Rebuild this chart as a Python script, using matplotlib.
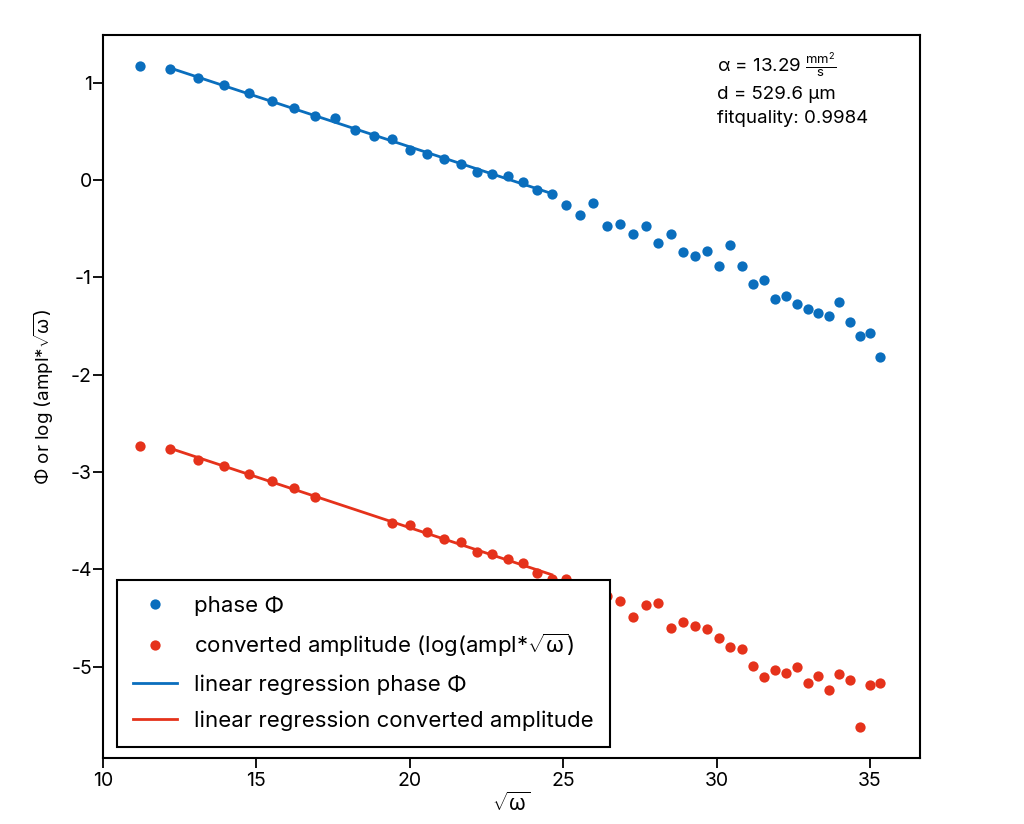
import numpy as np
import matplotlib
matplotlib.use("Agg")
import matplotlib.pyplot as plt
from matplotlib.lines import Line2D

plt.rcParams['font.family'] = ['Inter', 'DejaVu Sans']
plt.rcParams['mathtext.fontset'] = 'custom'
plt.rcParams['mathtext.rm'] = 'Inter'
plt.rcParams['mathtext.it'] = 'Inter'
plt.rcParams['mathtext.bf'] = 'Inter'

# ---------------- data ----------------
sqrt_omega = [11.216, 12.194, 13.099, 13.945, 14.743, 15.500, 16.222, 16.913, 17.576, 18.216,
              18.834, 19.432, 20.012, 20.576, 21.125, 21.660, 22.182, 22.692, 23.191, 23.679,
              24.158, 24.627, 25.087, 25.540, 25.984, 26.421, 26.850, 27.273, 27.690, 28.100,
              28.504, 28.903, 29.296, 29.684, 30.068, 30.446, 30.820, 31.189, 31.553, 31.914,
              32.271, 32.623, 32.972, 33.318, 33.659, 33.998, 34.333, 34.665, 34.993, 35.319]

phase = [1.172, 1.138, 1.051, 0.979, 0.891, 0.809, 0.737, 0.655, 0.640, 0.511,
         0.449, 0.418, 0.308, 0.270, 0.216, 0.168, 0.079, 0.065, 0.041, -0.017,
         -0.099, -0.144, -0.254, -0.356, -0.233, -0.473, -0.456, -0.555, -0.473, -0.647,
         -0.555, -0.737, -0.785, -0.726, -0.884, -0.668, -0.884, -1.066, -1.028, -1.226,
         -1.192, -1.274, -1.329, -1.364, -1.398, -1.250, -1.463, -1.603, -1.576, -1.822]

nan = float('nan')
amplitude = [-2.734, -2.768, -2.878, -2.936, -3.022, -3.097, -3.169, -3.255, nan, nan,
             nan, -3.522, -3.543, -3.618, -3.693, -3.720, -3.823, -3.844, -3.898, -3.933,
             -4.036, -4.098, -4.098, -4.214, -4.207, -4.275, -4.330, -4.491, -4.368, -4.344,
             -4.604, -4.543, -4.581, -4.612, -4.707, -4.803, -4.820, -4.995, -5.105, -5.036,
             -5.070, -5.005, -5.167, -5.095, -5.242, -5.080, -5.136, -5.619, -5.193, -5.167]

# indices of the points used for the linear regressions
fit_first, fit_last = 1, 21

alpha_txt = "13.29"
d_txt = "529.6"
fitq_txt = "0.9984"

x_ticks = [10, 15, 20, 25, 30, 35]
y_ticks = [1, 0, -1, -2, -3, -4, -5]

labels = ["phase \u03a6",
          r"converted amplitude (log(ampl*$\sqrt{\omega}$)",
          "linear regression phase \u03a6",
          "linear regression converted amplitude"]

BLUE = '#0a6ebd'
RED = '#e5321b'

# ---------------- plot ----------------
fig = plt.figure(figsize=(10.24, 8.24), dpi=100)
ax = fig.add_axes([103/1024, 1 - 758/824, (920 - 103)/1024, (758 - 35)/824])

x = np.array(sqrt_omega)
yp = np.array(phase)
ya = np.array(amplitude)

ax.plot(x, yp, 'o', color=BLUE, markersize=7.4, markeredgewidth=0, zorder=3)
ax.plot(x, ya, 'o', color=RED, markersize=7.4, markeredgewidth=0, zorder=3)

sl = slice(fit_first, fit_last + 1)
for yy, col in ((yp, BLUE), (ya, RED)):
    xs, ys = x[sl], yy[sl]
    m = ~np.isnan(ys)
    k, b = np.polyfit(xs[m], ys[m], 1)
    xf = np.array([xs[0], xs[-1]])
    ax.plot(xf, k * xf + b, '-', color=col, linewidth=2.0, zorder=2)

ax.set_xlim(10, 36.63)
ax.set_ylim(-5.94, 1.49)
ax.set_xticks(x_ticks)
ax.set_yticks(y_ticks)
ax.set_yticklabels([str(t) for t in y_ticks])
ax.tick_params(direction='out', length=7, width=1.3, labelsize=14)
ax.tick_params(axis='y', pad=1)
ax.tick_params(axis='x', pad=3)
for s in ax.spines.values():
    s.set_linewidth(1.5)

ax.set_xlabel(r"$\sqrt{\omega}$", fontsize=15, labelpad=1)
ax.set_ylabel(r"$\Phi$ or log (ampl*$\sqrt{\omega}$)", fontsize=13.5, labelpad=10)

tx = 0.7515
ax.text(tx, 0.948, r"$\alpha$ = " + alpha_txt + r" $\frac{\mathrm{mm}^2}{\mathrm{s}}$",
        transform=ax.transAxes, fontsize=13.5, va='baseline', ha='left')
ax.text(tx, 0.911, "d = " + d_txt + " \u00b5m",
        transform=ax.transAxes, fontsize=13.5, va='baseline', ha='left')
ax.text(tx, 0.878, "fitquality: " + fitq_txt,
        transform=ax.transAxes, fontsize=13.5, va='baseline', ha='left')

handles = [Line2D([], [], linestyle='none', marker='o', color=BLUE, markersize=7.4, markeredgewidth=0),
           Line2D([], [], linestyle='none', marker='o', color=RED, markersize=7.4, markeredgewidth=0),
           Line2D([], [], color=BLUE, linewidth=2.0),
           Line2D([], [], color=RED, linewidth=2.0)]
leg = ax.legend(handles, labels, loc='lower left', bbox_to_anchor=(0.017, 0.015),
                borderaxespad=0, fontsize=16, frameon=True, fancybox=False,
                edgecolor='black', framealpha=1, handlelength=2.0, handletextpad=0.75,
                labelspacing=0.7, borderpad=0.72)
leg.get_frame().set_linewidth(1.5)

fig.savefig("out.png", dpi=100)
